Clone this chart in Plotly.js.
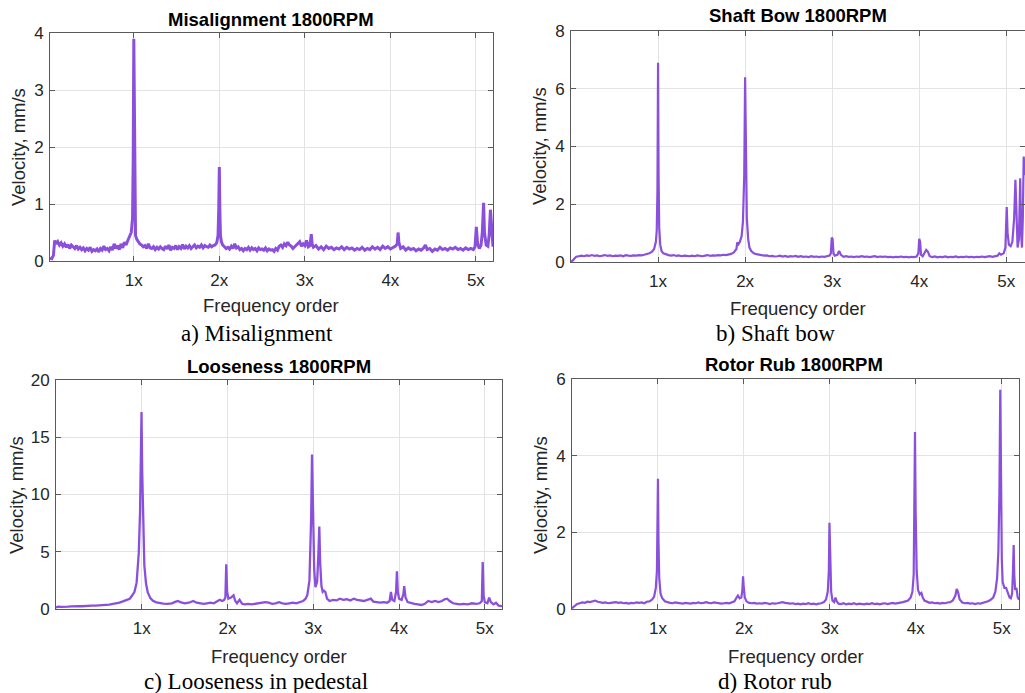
<!DOCTYPE html>
<html>
<head>
<meta charset="utf-8">
<script src="https://cdn.plot.ly/plotly-3.0.1.min.js"></script>
<style>html,body{margin:0;padding:0;background:#fff;}#chart{width:1025px;height:693px;}</style>
</head>
<body>
<div id="chart"></div>
<script>
// ---------- DATA (frequency order, velocity mm/s) ----------
const orderTicks = [1, 2, 3, 4, 5];
const orderLabels = ['1x', '2x', '3x', '4x', '5x'];

const titles = ['Misalignment 1800RPM', 'Shaft Bow 1800RPM', 'Looseness 1800RPM', 'Rotor Rub 1800RPM'];
const captions = ['a) Misalignment', 'b) Shaft bow', 'c) Looseness in pedestal', 'd) Rotor rub'];
const xTitle = 'Frequency order';
const yTitle = 'Velocity, mm/s';

const misalignment = [
[0.02,0.05],[0.04,0.04],[0.06,0.1],[0.075,0.36],[0.09,0.3],[0.11,0.34],[0.13,0.28],[0.15,0.32],[0.17,0.26],[0.19,0.3],
[0.21,0.24],[0.23,0.29],[0.25,0.22],[0.27,0.28],[0.29,0.25],[0.31,0.22],[0.33,0.27],[0.35,0.21],[0.37,0.24],[0.39,0.2],
[0.41,0.23],[0.43,0.18],[0.45,0.22],[0.47,0.19],[0.49,0.24],[0.51,0.17],[0.53,0.2],[0.55,0.18],[0.57,0.21],[0.59,0.16],
[0.61,0.22],[0.63,0.19],[0.65,0.26],[0.67,0.2],[0.69,0.22],[0.71,0.18],[0.73,0.25],[0.75,0.19],[0.77,0.3],[0.79,0.22],
[0.81,0.27],[0.83,0.2],[0.85,0.3],[0.87,0.23],[0.89,0.33],[0.91,0.28],[0.93,0.36],[0.95,0.42],[0.97,0.5],[0.985,0.75],
[0.993,1.8],[1.0,3.9],[1.006,2.2],[1.012,0.9],[1.02,0.45],[1.035,0.38],[1.05,0.34],[1.07,0.3],[1.09,0.28],[1.11,0.25],
[1.13,0.27],[1.15,0.22],[1.17,0.3],[1.19,0.23],[1.21,0.22],[1.23,0.25],[1.25,0.2],[1.27,0.24],[1.29,0.21],[1.31,0.25],
[1.33,0.22],[1.35,0.2],[1.37,0.26],[1.39,0.21],[1.41,0.28],[1.43,0.19],[1.45,0.24],[1.47,0.22],[1.49,0.27],[1.51,0.2],
[1.53,0.25],[1.55,0.22],[1.57,0.29],[1.59,0.21],[1.61,0.26],[1.63,0.23],[1.65,0.27],[1.67,0.22],[1.69,0.25],[1.71,0.28],
[1.73,0.23],[1.75,0.26],[1.77,0.24],[1.79,0.28],[1.81,0.23],[1.83,0.27],[1.85,0.25],[1.87,0.24],[1.89,0.28],[1.91,0.25],
[1.93,0.27],[1.95,0.28],[1.97,0.32],[1.985,0.45],[1.993,0.9],[2.0,1.65],[2.006,0.9],[2.013,0.45],[2.025,0.33],[2.04,0.28],
[2.06,0.25],[2.08,0.22],[2.1,0.24],[2.12,0.21],[2.14,0.26],[2.16,0.22],[2.18,0.3],[2.2,0.23],[2.22,0.25],[2.24,0.2],
[2.26,0.22],[2.28,0.18],[2.3,0.22],[2.32,0.2],[2.34,0.24],[2.36,0.19],[2.38,0.23],[2.4,0.2],[2.42,0.22],[2.44,0.18],
[2.46,0.23],[2.48,0.2],[2.5,0.21],[2.52,0.19],[2.54,0.23],[2.56,0.18],[2.58,0.21],[2.6,0.19],[2.62,0.2],[2.64,0.17],
[2.66,0.22],[2.68,0.19],[2.7,0.26],[2.72,0.28],[2.74,0.24],[2.76,0.3],[2.78,0.27],[2.8,0.33],[2.82,0.28],[2.84,0.26],
[2.86,0.22],[2.88,0.25],[2.9,0.28],[2.92,0.3],[2.94,0.34],[2.96,0.26],[2.98,0.3],[3.0,0.27],[3.02,0.36],[3.04,0.25],
[3.06,0.27],[3.075,0.47],[3.085,0.3],[3.1,0.24],[3.13,0.27],[3.16,0.21],[3.19,0.25],[3.22,0.2],[3.25,0.26],[3.28,0.22],
[3.31,0.24],[3.34,0.2],[3.37,0.23],[3.4,0.21],[3.43,0.25],[3.46,0.2],[3.49,0.24],[3.52,0.21],[3.55,0.23],[3.58,0.19],
[3.61,0.22],[3.64,0.2],[3.67,0.24],[3.7,0.19],[3.73,0.22],[3.76,0.2],[3.79,0.25],[3.82,0.21],[3.85,0.24],[3.88,0.2],
[3.91,0.26],[3.94,0.22],[3.97,0.25],[4.0,0.21],[4.03,0.24],[4.06,0.26],[4.08,0.3],[4.09,0.5],[4.1,0.32],[4.12,0.22],
[4.15,0.25],[4.18,0.19],[4.21,0.23],[4.24,0.2],[4.27,0.22],[4.3,0.18],[4.33,0.21],[4.36,0.19],[4.39,0.23],[4.41,0.28],
[4.43,0.2],[4.46,0.22],[4.49,0.17],[4.52,0.21],[4.55,0.19],[4.58,0.24],[4.61,0.2],[4.64,0.22],[4.67,0.19],[4.7,0.23],
[4.73,0.21],[4.76,0.24],[4.79,0.2],[4.82,0.22],[4.85,0.19],[4.88,0.23],[4.91,0.2],[4.94,0.22],[4.97,0.2],[4.99,0.25],
[5.005,0.6],[5.02,0.3],[5.04,0.22],[5.06,0.28],[5.075,0.5],[5.09,1.02],[5.1,0.5],[5.12,0.28],[5.14,0.26],[5.155,0.45],
[5.17,0.9],[5.18,0.6],[5.19,0.3],[5.2,0.25]
];

const shaftBow = [
[0,0.02],[0.02,0.05],[0.04,0.12],[0.06,0.18],[0.09,0.2],[0.12,0.22],[0.15,0.2],[0.18,0.23],[0.21,0.21],[0.24,0.24],
[0.27,0.21],[0.3,0.23],[0.33,0.2],[0.36,0.22],[0.39,0.24],[0.42,0.21],[0.45,0.23],[0.48,0.2],[0.51,0.22],[0.54,0.21],
[0.57,0.23],[0.6,0.2],[0.63,0.24],[0.66,0.22],[0.69,0.21],[0.72,0.23],[0.75,0.22],[0.78,0.24],[0.81,0.23],[0.84,0.25],
[0.87,0.27],[0.9,0.3],[0.93,0.36],[0.955,0.45],[0.975,0.7],[0.985,1.1],[0.993,2.5],[1.0,6.9],[1.006,3.0],[1.013,1.2],
[1.025,0.6],[1.04,0.38],[1.06,0.3],[1.09,0.26],[1.12,0.24],[1.15,0.22],[1.18,0.24],[1.21,0.21],[1.24,0.23],[1.27,0.2],
[1.3,0.22],[1.33,0.21],[1.36,0.2],[1.39,0.22],[1.42,0.2],[1.45,0.23],[1.48,0.21],[1.51,0.2],[1.54,0.22],[1.57,0.24],
[1.6,0.21],[1.63,0.23],[1.66,0.22],[1.69,0.24],[1.72,0.23],[1.75,0.25],[1.78,0.24],[1.81,0.26],[1.84,0.28],[1.87,0.33],
[1.9,0.45],[1.91,0.68],[1.925,0.62],[1.94,0.7],[1.96,0.9],[1.975,1.4],[1.99,3.0],[2.0,6.4],[2.008,3.5],[2.02,1.5],
[2.035,0.8],[2.05,0.5],[2.07,0.38],[2.1,0.3],[2.13,0.27],[2.16,0.25],[2.19,0.24],[2.22,0.22],[2.25,0.23],[2.28,0.2],
[2.31,0.21],[2.34,0.19],[2.37,0.2],[2.4,0.22],[2.43,0.19],[2.46,0.21],[2.49,0.18],[2.52,0.2],[2.55,0.19],[2.58,0.21],
[2.61,0.18],[2.64,0.2],[2.67,0.18],[2.7,0.19],[2.73,0.17],[2.76,0.2],[2.79,0.18],[2.82,0.19],[2.85,0.17],[2.88,0.19],
[2.91,0.18],[2.94,0.2],[2.97,0.22],[2.985,0.3],[2.995,0.85],[3.005,0.8],[3.015,0.3],[3.03,0.22],[3.06,0.25],[3.08,0.38],
[3.1,0.25],[3.13,0.18],[3.16,0.2],[3.19,0.18],[3.22,0.19],[3.25,0.17],[3.28,0.19],[3.31,0.18],[3.34,0.2],[3.37,0.18],
[3.4,0.19],[3.43,0.17],[3.46,0.18],[3.49,0.2],[3.52,0.17],[3.55,0.19],[3.58,0.18],[3.61,0.19],[3.64,0.17],[3.67,0.18],
[3.7,0.16],[3.73,0.18],[3.76,0.17],[3.79,0.19],[3.82,0.17],[3.85,0.18],[3.88,0.16],[3.91,0.18],[3.94,0.17],[3.97,0.19],
[3.99,0.3],[4.0,0.8],[4.01,0.7],[4.02,0.25],[4.04,0.2],[4.06,0.3],[4.08,0.42],[4.1,0.35],[4.12,0.2],[4.15,0.17],
[4.18,0.19],[4.21,0.16],[4.24,0.18],[4.27,0.17],[4.3,0.19],[4.33,0.16],[4.36,0.18],[4.39,0.17],[4.42,0.19],[4.45,0.16],
[4.48,0.18],[4.51,0.17],[4.54,0.19],[4.57,0.17],[4.6,0.18],[4.63,0.16],[4.66,0.18],[4.69,0.17],[4.72,0.19],[4.75,0.17],
[4.78,0.18],[4.81,0.2],[4.84,0.18],[4.87,0.2],[4.9,0.22],[4.92,0.3],[4.94,0.25],[4.97,0.3],[4.99,0.5],[5.005,1.9],
[5.015,1.0],[5.03,0.6],[5.05,0.55],[5.07,0.7],[5.09,1.5],[5.105,2.85],[5.115,1.5],[5.13,0.5],[5.145,0.8],[5.16,2.9],
[5.17,1.0],[5.18,0.5],[5.19,1.5],[5.2,3.65],[5.215,3.0]
];

const looseness = [
[0,0.15],[0.03,0.2],[0.06,0.18],[0.1,0.22],[0.14,0.2],[0.18,0.23],[0.22,0.21],[0.26,0.25],[0.3,0.24],[0.34,0.27],
[0.38,0.26],[0.42,0.3],[0.46,0.29],[0.5,0.33],[0.54,0.32],[0.58,0.36],[0.62,0.38],[0.66,0.42],[0.7,0.47],[0.74,0.55],
[0.78,0.66],[0.82,0.75],[0.86,0.9],[0.89,1.2],[0.915,1.5],[0.94,2.3],[0.965,4.9],[0.98,8.5],[0.99,13],[0.997,17.2],
[1.005,12],[1.015,7],[1.03,3.8],[1.05,2.2],[1.07,1.45],[1.1,0.95],[1.13,0.72],[1.17,0.58],[1.21,0.5],[1.25,0.47],
[1.3,0.45],[1.35,0.5],[1.39,0.62],[1.42,0.7],[1.45,0.6],[1.5,0.5],[1.55,0.55],[1.6,0.7],[1.64,0.55],[1.68,0.5],
[1.72,0.45],[1.76,0.5],[1.8,0.55],[1.84,0.5],[1.88,0.65],[1.91,0.8],[1.94,0.7],[1.96,0.8],[1.975,1.0],[1.985,3.9],
[1.995,1.5],[2.01,0.9],[2.04,1.0],[2.07,1.2],[2.09,0.7],[2.11,0.5],[2.14,0.8],[2.17,0.45],[2.2,0.4],[2.24,0.45],
[2.28,0.4],[2.32,0.45],[2.36,0.5],[2.4,0.55],[2.44,0.6],[2.48,0.55],[2.52,0.45],[2.56,0.5],[2.6,0.6],[2.64,0.5],
[2.68,0.45],[2.72,0.5],[2.76,0.55],[2.8,0.5],[2.84,0.6],[2.88,0.7],[2.91,0.9],[2.93,1.2],[2.955,2.5],[2.975,8],
[2.985,13.5],[2.995,9],[3.01,3.5],[3.025,1.9],[3.045,2.4],[3.06,5],[3.07,7.2],[3.08,4],[3.095,2],[3.11,1.5],
[3.125,1.6],[3.14,1.5],[3.16,0.9],[3.19,0.7],[3.23,0.8],[3.27,0.75],[3.31,0.9],[3.35,0.8],[3.39,0.85],[3.43,0.75],
[3.47,0.9],[3.51,0.8],[3.55,0.75],[3.59,0.7],[3.63,0.8],[3.67,0.9],[3.7,0.65],[3.74,0.6],[3.78,0.55],[3.82,0.6],
[3.86,0.55],[3.89,0.7],[3.905,1.5],[3.92,0.8],[3.945,0.7],[3.965,1.5],[3.975,3.3],[3.985,1.5],[4.0,0.9],[4.03,0.8],
[4.05,1.3],[4.06,2.0],[4.075,1.0],[4.1,0.6],[4.14,0.5],[4.18,0.45],[4.22,0.4],[4.26,0.35],[4.3,0.45],[4.34,0.7],
[4.38,0.6],[4.42,0.7],[4.46,0.6],[4.5,0.7],[4.53,0.85],[4.56,0.9],[4.59,0.7],[4.63,0.5],[4.67,0.45],[4.71,0.4],
[4.75,0.45],[4.8,0.4],[4.85,0.5],[4.9,0.45],[4.94,0.5],[4.965,0.7],[4.975,4.1],[4.985,1.2],[5.0,0.6],[5.03,0.5],
[5.05,1.0],[5.07,0.6],[5.1,0.4],[5.13,0.55],[5.16,0.3],[5.2,0.25]
];

const rotorRub = [
[0,0.02],[0.02,0.05],[0.04,0.1],[0.06,0.13],[0.09,0.15],[0.12,0.17],[0.15,0.16],[0.18,0.19],[0.21,0.18],[0.24,0.2],
[0.27,0.22],[0.3,0.19],[0.33,0.17],[0.36,0.16],[0.39,0.17],[0.42,0.15],[0.45,0.16],[0.48,0.17],[0.51,0.18],[0.54,0.16],
[0.57,0.17],[0.6,0.15],[0.63,0.16],[0.66,0.14],[0.69,0.16],[0.72,0.15],[0.75,0.17],[0.78,0.16],[0.81,0.17],[0.84,0.15],
[0.87,0.19],[0.9,0.2],[0.93,0.24],[0.955,0.32],[0.975,0.55],[0.988,1.0],[0.995,2.0],[1.0,3.4],[1.006,1.8],[1.015,0.8],
[1.03,0.4],[1.05,0.28],[1.08,0.2],[1.11,0.17],[1.14,0.16],[1.17,0.15],[1.2,0.17],[1.23,0.16],[1.26,0.15],[1.29,0.14],
[1.32,0.16],[1.35,0.15],[1.38,0.14],[1.41,0.16],[1.44,0.15],[1.47,0.17],[1.5,0.15],[1.53,0.16],[1.56,0.18],[1.59,0.16],
[1.62,0.15],[1.65,0.17],[1.68,0.16],[1.71,0.15],[1.74,0.14],[1.77,0.15],[1.8,0.16],[1.83,0.15],[1.86,0.17],[1.89,0.2],
[1.915,0.3],[1.93,0.35],[1.95,0.28],[1.97,0.3],[1.982,0.5],[1.99,0.85],[1.997,0.6],[2.01,0.3],[2.03,0.2],[2.06,0.16],
[2.09,0.15],[2.12,0.16],[2.15,0.14],[2.18,0.15],[2.21,0.14],[2.24,0.16],[2.27,0.15],[2.3,0.13],[2.33,0.15],[2.36,0.14],
[2.39,0.15],[2.42,0.16],[2.45,0.18],[2.48,0.16],[2.51,0.15],[2.54,0.14],[2.57,0.15],[2.6,0.13],[2.63,0.14],[2.66,0.12],
[2.69,0.14],[2.72,0.13],[2.75,0.15],[2.78,0.13],[2.81,0.14],[2.84,0.12],[2.87,0.14],[2.9,0.15],[2.93,0.18],[2.955,0.25],
[2.975,0.45],[2.988,1.0],[2.995,2.25],[3.002,1.2],[3.015,0.45],[3.03,0.22],[3.05,0.18],[3.065,0.3],[3.08,0.2],[3.1,0.14],
[3.13,0.13],[3.16,0.15],[3.19,0.12],[3.22,0.14],[3.25,0.13],[3.28,0.15],[3.31,0.12],[3.34,0.14],[3.37,0.13],[3.4,0.12],
[3.43,0.14],[3.46,0.13],[3.49,0.15],[3.52,0.13],[3.55,0.14],[3.58,0.12],[3.61,0.14],[3.64,0.15],[3.67,0.13],[3.7,0.14],
[3.73,0.16],[3.76,0.14],[3.79,0.15],[3.82,0.16],[3.85,0.18],[3.88,0.2],[3.91,0.22],[3.94,0.3],[3.96,0.45],[3.975,0.9],
[3.982,2.2],[3.99,4.62],[3.998,2.5],[4.01,1.0],[4.025,0.5],[4.045,0.38],[4.065,0.42],[4.08,0.3],[4.1,0.22],[4.13,0.18],
[4.16,0.16],[4.19,0.17],[4.22,0.15],[4.25,0.16],[4.28,0.14],[4.31,0.16],[4.34,0.15],[4.37,0.17],[4.4,0.18],[4.43,0.22],
[4.46,0.35],[4.475,0.52],[4.49,0.45],[4.51,0.25],[4.54,0.17],[4.57,0.15],[4.6,0.16],[4.63,0.14],[4.66,0.15],[4.69,0.13],
[4.72,0.15],[4.75,0.14],[4.78,0.16],[4.81,0.17],[4.84,0.2],[4.87,0.24],[4.9,0.3],[4.925,0.45],[4.945,0.8],[4.96,1.5],
[4.972,3.0],[4.982,5.72],[4.99,3.5],[5.0,1.3],[5.01,0.7],[5.03,0.55],[5.05,0.55],[5.07,0.4],[5.09,0.3],[5.105,0.28],
[5.12,0.4],[5.13,1.0],[5.138,1.67],[5.145,0.9],[5.155,0.5],[5.17,0.55],[5.185,0.3],[5.2,0.24]
];

const seriesList = [misalignment, shaftBow, looseness, rotorRub];
const yMax = [4, 8, 20, 6];
const yStep = [1, 2, 5, 2];
const xRange = [[0.02, 5.2], [0, 5.215], [0, 5.2], [0, 5.2]];

// ---------- LAYOUT (pixel boxes of each plot area) ----------
const W = 1025, H = 693;
const boxes = [
  {l: 50,  r: 493,  t: 33,  b: 261},
  {l: 571, r: 1025, t: 31,  b: 262},
  {l: 56,  r: 502,  t: 380, b: 609},
  {l: 572, r: 1019, t: 379, b: 609}
];
const lineWidths = [3, 2.2, 2.3, 2.2];
const lineColor = '#8a50dc';
const axisColor = '#5a5a5a';
const gridColor = '#e3e3e3';
const textColor = '#262626';
const sansFont = 'Liberation Sans, Arial, sans-serif';
const serifFont = 'Liberation Serif, Times New Roman, serif';

const px = x => x / W;
const py = y => 1 - y / H;

const data = [];
const layout = {
  width: W, height: H,
  margin: {l: 0, r: 0, t: 0, b: 0},
  paper_bgcolor: '#fff', plot_bgcolor: '#fff',
  showlegend: false,
  annotations: []
};

const titlePos = [[271, 20], [798, 16], [279, 366], [794, 364]];
const xTitlePos = [[271, 305], [798, 308], [279, 656], [796, 656]];
const yTitlePos = [[18, 147], [539, 146], [16, 495], [540, 495]];
const captionPos = [[257, 333], [775, 333], [256, 681], [775, 681]];

seriesList.forEach((s, i) => {
  const n = i + 1;
  const xa = 'x' + (n === 1 ? '' : n), ya = 'y' + (n === 1 ? '' : n);
  data.push({
    type: 'scatter', mode: 'lines',
    x: s.map(p => p[0]), y: s.map(p => p[1]),
    xaxis: xa, yaxis: ya,
    line: {color: lineColor, width: lineWidths[i]},
    hoverinfo: 'x+y'
  });
  const bx = boxes[i];
  const yt = [];
  for (let v = 0; v <= yMax[i]; v += yStep[i]) yt.push(v);
  layout['xaxis' + (n === 1 ? '' : n)] = {
    domain: [px(bx.l), px(bx.r)], anchor: ya,
    range: xRange[i], tickvals: orderTicks, ticktext: orderLabels,
    showgrid: true, gridcolor: gridColor, gridwidth: 1,
    zeroline: false, showline: true, linecolor: axisColor, linewidth: 1, mirror: 'ticks',
    ticks: 'inside', ticklen: 5, tickcolor: axisColor, tickwidth: 1,
    tickfont: {family: sansFont, size: 17, color: textColor},
    ticklabelstandoff: 4, fixedrange: true
  };
  layout['yaxis' + (n === 1 ? '' : n)] = {
    domain: [py(bx.b), py(bx.t)], anchor: xa,
    range: [0, yMax[i]], tickvals: yt,
    showgrid: true, gridcolor: gridColor, gridwidth: 1,
    zeroline: false, showline: true, linecolor: axisColor, linewidth: 1, mirror: 'ticks',
    ticks: 'inside', ticklen: 5, tickcolor: axisColor, tickwidth: 1,
    tickfont: {family: sansFont, size: 17, color: textColor},
    ticklabelstandoff: 2, fixedrange: true
  };
  layout.annotations.push({
    xref: 'paper', yref: 'paper', x: px(titlePos[i][0]), y: py(titlePos[i][1]),
    text: '<b>' + titles[i] + '</b>', showarrow: false, xanchor: 'center', yanchor: 'middle',
    font: {family: sansFont, size: 18.5, color: '#000'}
  });
  layout.annotations.push({
    xref: 'paper', yref: 'paper', x: px(xTitlePos[i][0]), y: py(xTitlePos[i][1]),
    text: xTitle, showarrow: false, xanchor: 'center', yanchor: 'middle',
    font: {family: sansFont, size: 18.5, color: textColor}
  });
  layout.annotations.push({
    xref: 'paper', yref: 'paper', x: px(yTitlePos[i][0]), y: py(yTitlePos[i][1]),
    text: yTitle, showarrow: false, xanchor: 'center', yanchor: 'middle', textangle: -90,
    font: {family: sansFont, size: 18.5, color: textColor}
  });
  layout.annotations.push({
    xref: 'paper', yref: 'paper', x: px(captionPos[i][0]), y: py(captionPos[i][1]),
    text: captions[i], showarrow: false, xanchor: 'center', yanchor: 'middle',
    font: {family: serifFont, size: 23, color: '#000'}
  });
});

Plotly.newPlot('chart', data, layout, {displayModeBar: false, staticPlot: true});
</script>
</body>
</html>
